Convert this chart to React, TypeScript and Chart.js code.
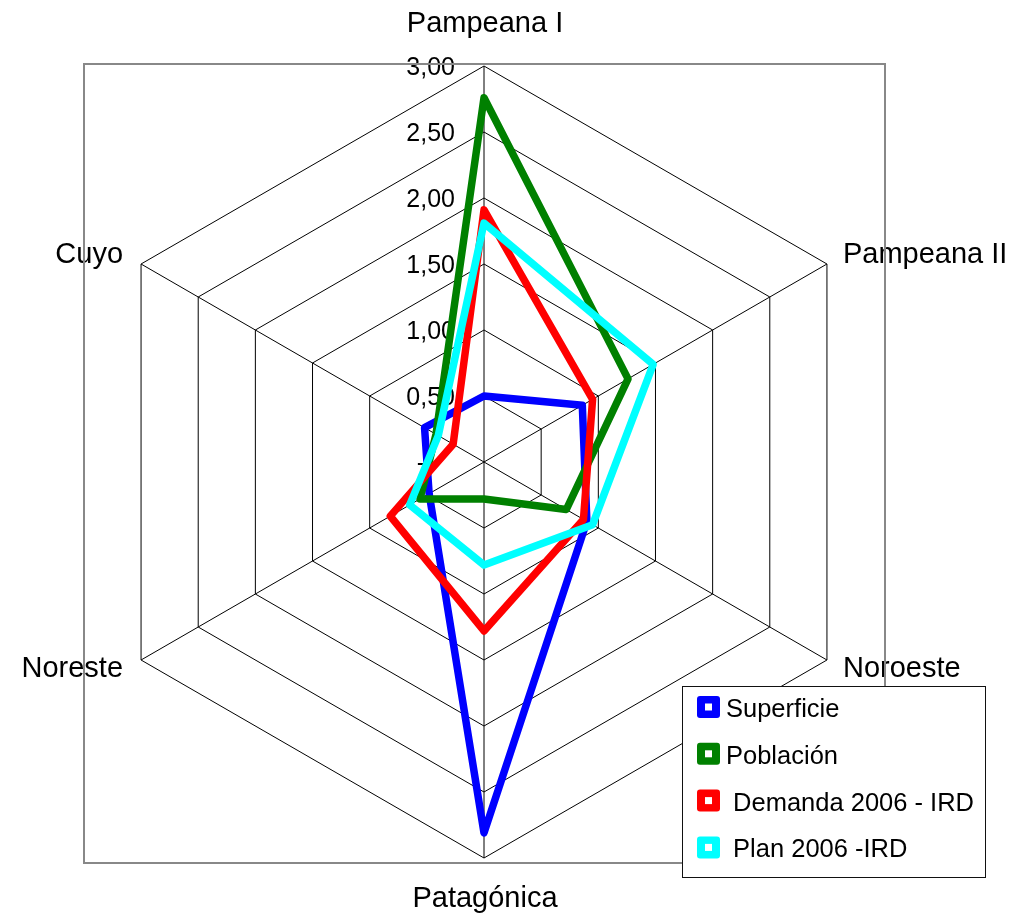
import React, { useEffect, useRef } from 'react';
import { Chart, registerables } from 'chart.js';

Chart.register(...registerables);

const categories = ['Pampeana I', 'Pampeana II', 'Noroeste', 'Patagónica', 'Noreste', 'Cuyo'];
const seriesNames = ['Superficie', 'Población', ' Demanda 2006 - IRD', ' Plan 2006 -IRD'];
const superficie = [0.5, 0.86, 0.9, 2.81, 0.48, 0.52];
const poblacion = [2.76, 1.26, 0.72, 0.28, 0.56, 0.42];
const demanda = [1.91, 0.95, 0.87, 1.28, 0.82, 0.27];
const plan = [1.81, 1.48, 0.95, 0.78, 0.65, 0.4];
const tickLabels = ['-', '0,50', '1,00', '1,50', '2,00', '2,50', '3,00'];
const seriesColors = ['#0000FF', '#008000', '#FF0000', '#00FFFF'];

const FONT = '"Liberation Sans", Arial, Helvetica, sans-serif';

const decorPlugin = {
  id: 'decor',
  beforeDatasetsDraw(chart: any) {
    const ctx = chart.ctx;
    const scale = chart.scales.r;
    const cx = scale.xCenter;
    const cy = scale.yCenter;
    ctx.save();
    ctx.font = `25px ${FONT}`;
    ctx.fillStyle = '#000';
    ctx.textAlign = 'right';
    ctx.textBaseline = 'alphabetic';
    scale.ticks.forEach((t: any, i: number) => {
      const d = scale.getDistanceFromCenterForValue(t.value);
      const label = tickLabels[i] ?? '';
      let x = cx - 29;
      if (t.value === 0) x -= ctx.measureText('00').width + 2;
      ctx.fillText(label, x, cy - d + 9);
    });
    ctx.restore();
  },
  afterDraw(chart: any) {
    const ctx = chart.ctx;
    const scale = chart.scales.r;
    const cx = scale.xCenter;
    const cy = scale.yCenter;
    ctx.save();
    // point labels
    ctx.font = `29px ${FONT}`;
    ctx.fillStyle = '#000';
    ctx.textBaseline = 'alphabetic';
    categories.forEach((c, i) => {
      const p = scale.getPointPosition(i, scale.drawingArea);
      const dx = p.x - cx;
      const dy = p.y - cy;
      let x: number;
      let y: number;
      if (Math.abs(dx) < 1) {
        ctx.textAlign = 'center';
        x = p.x + 1;
        y = dy < 0 ? p.y - 34 : p.y + 49;
      } else {
        ctx.textAlign = dx > 0 ? 'left' : 'right';
        x = dx > 0 ? p.x + 16 : p.x - 18;
        y = dy < 0 ? p.y - 1 : p.y + 17;
      }
      ctx.fillText(c, x, y);
    });
    // plot border
    ctx.strokeStyle = '#888888';
    ctx.lineWidth = 2;
    ctx.strokeRect(84, 64, 801, 799);
    // legend
    const lx = 682.5;
    const ly = 686.5;
    const lw = 303;
    const lh = 191;
    ctx.fillStyle = '#ffffff';
    ctx.fillRect(lx, ly, lw, lh);
    ctx.strokeStyle = '#111111';
    ctx.lineWidth = 1;
    ctx.strokeRect(lx, ly, lw, lh);
    ctx.font = `25.5px ${FONT}`;
    ctx.textAlign = 'left';
    ctx.textBaseline = 'alphabetic';
    chart.data.datasets.forEach((ds: any, i: number) => {
      const rowY = 707 + i * 46.8;
      ctx.fillStyle = ds.borderColor;
      ctx.beginPath();
      if (ctx.roundRect) ctx.roundRect(697, rowY - 11, 23, 22, 3);
      else ctx.rect(697, rowY - 11, 23, 22);
      ctx.fill();
      ctx.fillStyle = '#ffffff';
      ctx.fillRect(705, rowY - 3.5, 7, 7);
      ctx.fillStyle = '#000';
      ctx.fillText(ds.label, 726, rowY + 10);
    });
    ctx.restore();
  },
};

export default function App() {
  const canvasRef = useRef<HTMLCanvasElement | null>(null);

  useEffect(() => {
    const canvas = canvasRef.current;
    if (!canvas) return;
    const seriesData = [superficie, poblacion, demanda, plan];
    const chart = new Chart(canvas, {
      type: 'radar',
      data: {
        labels: categories,
        datasets: seriesNames.map((name, i) => ({
          label: name,
          data: seriesData[i],
          borderColor: seriesColors[i],
          backgroundColor: seriesColors[i],
          borderWidth: 7.5,
          borderJoinStyle: 'round',
          fill: false,
          pointRadius: 0,
          pointHoverRadius: 0,
          tension: 0,
          order: seriesNames.length - i,
        })),
      },
      options: {
        responsive: false,
        animation: false,
        devicePixelRatio: 1,
        events: [],
        layout: { padding: { left: 88, top: 66, right: 131, bottom: 55 } },
        plugins: {
          legend: { display: false },
          tooltip: { enabled: false },
        },
        scales: {
          r: {
            min: 0,
            max: 3,
            ticks: { stepSize: 0.5, display: false },
            pointLabels: { display: false },
            grid: { color: '#000000', lineWidth: 1, circular: false },
            angleLines: { color: '#000000', lineWidth: 1 },
          },
        },
      } as any,
      plugins: [decorPlugin],
    });
    return () => chart.destroy();
  }, []);

  return (
    <div style={{ position: 'absolute', left: 0, top: 0, width: 1011, height: 913, background: '#fff' }}>
      <canvas ref={canvasRef} width={1011} height={913} style={{ display: 'block' }} />
    </div>
  );
}
